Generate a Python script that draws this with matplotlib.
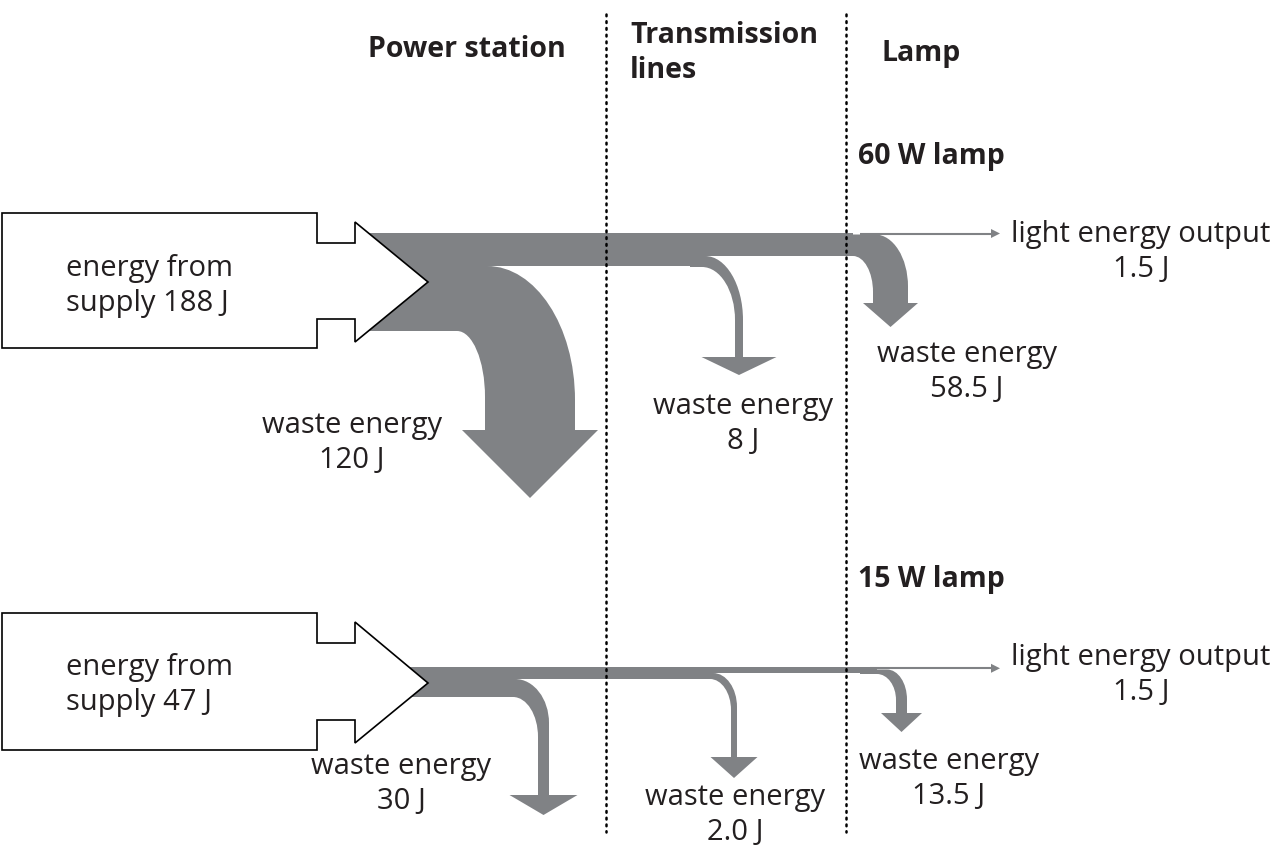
import matplotlib.pyplot as plt
from matplotlib.path import Path
from matplotlib.patches import PathPatch, Polygon

plt.rcParams['font.family'] = ['Open Sans', 'DejaVu Sans']

GREY = "#808285"
INK = "#231f20"

# chart content
stages = ["Power station", "Transmission\nlines", "Lamp"]
lamps = ["60 W lamp", "15 W lamp"]
supply = ["188 J", "47 J"]
station_waste = ["120 J", "30 J"]
line_waste = ["8 J", "2.0 J"]
lamp_waste = ["58.5 J", "13.5 J"]
light_out = ["1.5 J", "1.5 J"]

K = 0.5523  # bezier factor for a quarter ellipse


def branch(ax, x_from, ya, yb, xo, xi, xl, xr, ry_out, ry_in, y_end, hw, hl):
    """flow band [ya, yb] that bends down into a stem [xl, xr] with a head"""
    cx = (xl + xr) / 2
    verts = [(x_from, yb), (xi, yb),
             (xi + K * (xl - xi), yb), (xl, yb + ry_in * (1 - K)), (xl, yb + ry_in),
             (xl, y_end), (cx - hw, y_end), (cx, y_end + hl), (cx + hw, y_end), (xr, y_end),
             (xr, ya + ry_out),
             (xr, ya + ry_out * (1 - K)), (xo + K * (xr - xo), ya), (xo, ya),
             (x_from, ya), (x_from, yb)]
    codes = ([Path.MOVETO, Path.LINETO] + [Path.CURVE4] * 3 + [Path.LINETO] * 6
             + [Path.CURVE4] * 3 + [Path.LINETO, Path.CLOSEPOLY])
    ax.add_patch(PathPatch(Path(verts, codes), fc=GREY, ec="none", zorder=1))


def band(ax, x0, x1, y0, y1):
    ax.add_patch(Polygon([(x0, y0), (x1, y0), (x1, y1), (x0, y1)], closed=True,
                         fc=GREY, ec="none", zorder=1))


def supply_box(ax, top, bot, ntop, nbot, htop, hbot, ymid):
    pts = [(2, top), (317, top), (317, ntop), (355, ntop), (355, htop), (428, ymid),
           (355, hbot), (355, nbot), (317, nbot), (317, bot), (2, bot)]
    ax.add_patch(Polygon(pts, closed=True, fc="white", ec="black", lw=1.2,
                         joinstyle="miter", zorder=2))


def light_arrow(ax, x0, y):
    ax.plot([x0, 992], [y, y], color=GREY, lw=1.5, solid_capstyle="butt", zorder=1)
    ax.add_patch(Polygon([(991, y - 4.5), (1000, y), (991, y + 4.5)], closed=True,
                         fc=GREY, ec="none", zorder=1))


fig = plt.figure(figsize=(12.74, 8.49), dpi=100)
ax = fig.add_axes([0, 0, 1, 1])
ax.set_xlim(0, 1274)
ax.set_ylim(849, 0)
ax.axis("off")

txt = dict(color=INK, fontsize=21, linespacing=1.25)
bold = dict(color=INK, fontsize=20.5, linespacing=1.25, fontweight="bold")

# ---- 60 W lamp ----
branch(ax, 355, 266, 331, 487, 457, 485, 575, 134, 66, 430, 68, 68)
band(ax, 355, 702, 232.5, 266)
branch(ax, 690, 256, 267, 705, 702, 735, 743, 64, 53, 357, 37.5, 18)
band(ax, 690, 853, 232.5, 256)
branch(ax, 840, 234.5, 256, 875, 853, 873, 908, 52, 36, 303, 27.5, 24)
light_arrow(ax, 860, 233.5)
supply_box(ax, 213, 348, 243, 319, 222, 342, 282)

# ---- 15 W lamp ----
branch(ax, 355, 679, 697, 515, 513, 538, 549, 44, 40, 795, 34, 20)
band(ax, 355, 710, 667, 679)
branch(ax, 700, 673, 679, 713, 710, 731, 737, 34, 31, 757, 23.5, 21)
band(ax, 700, 877, 667, 673)
branch(ax, 860, 669.5, 674, 887, 877, 896, 907, 30, 26, 713, 20.5, 19)
light_arrow(ax, 870, 668.3)
supply_box(ax, 613, 750, 643, 720, 622, 743, 683)

# stage separators
for x in (606, 846):
    ax.plot([x, x], [14, 832], color="black", lw=1.8, ls=(0, (0.7, 2.0)),
            dash_capstyle="round", zorder=3)

# headers
ax.text(467, 49, stages[0], ha="center", va="center", **bold)
ax.text(630, 53, stages[1], ha="left", va="center", **bold)
ax.text(882, 53, stages[2], ha="left", va="center", **bold)
ax.text(858, 156, lamps[0], ha="left", va="center", **bold)
ax.text(858, 579, lamps[1], ha="left", va="center", **bold)

# labels, one row per lamp
rows = [dict(box=286, st=(352, 443), ln=(743, 424), lp=(967, 372), li=252),
        dict(box=685, st=(401, 784), ln=(735, 815), lp=(949, 779), li=675)]
for i, r in enumerate(rows):
    ax.text(66, r["box"], "energy from\nsupply " + supply[i], ha="left", va="center",
            multialignment="left", **txt)
    ax.text(*r["st"], "waste energy\n" + station_waste[i], ha="center", va="center", **txt)
    ax.text(*r["ln"], "waste energy\n" + line_waste[i], ha="center", va="center", **txt)
    ax.text(*r["lp"], "waste energy\n" + lamp_waste[i], ha="center", va="center", **txt)
    ax.text(1141, r["li"], "light energy output\n" + light_out[i], ha="center",
            va="center", **txt)

fig.savefig("out.png", dpi=100)
